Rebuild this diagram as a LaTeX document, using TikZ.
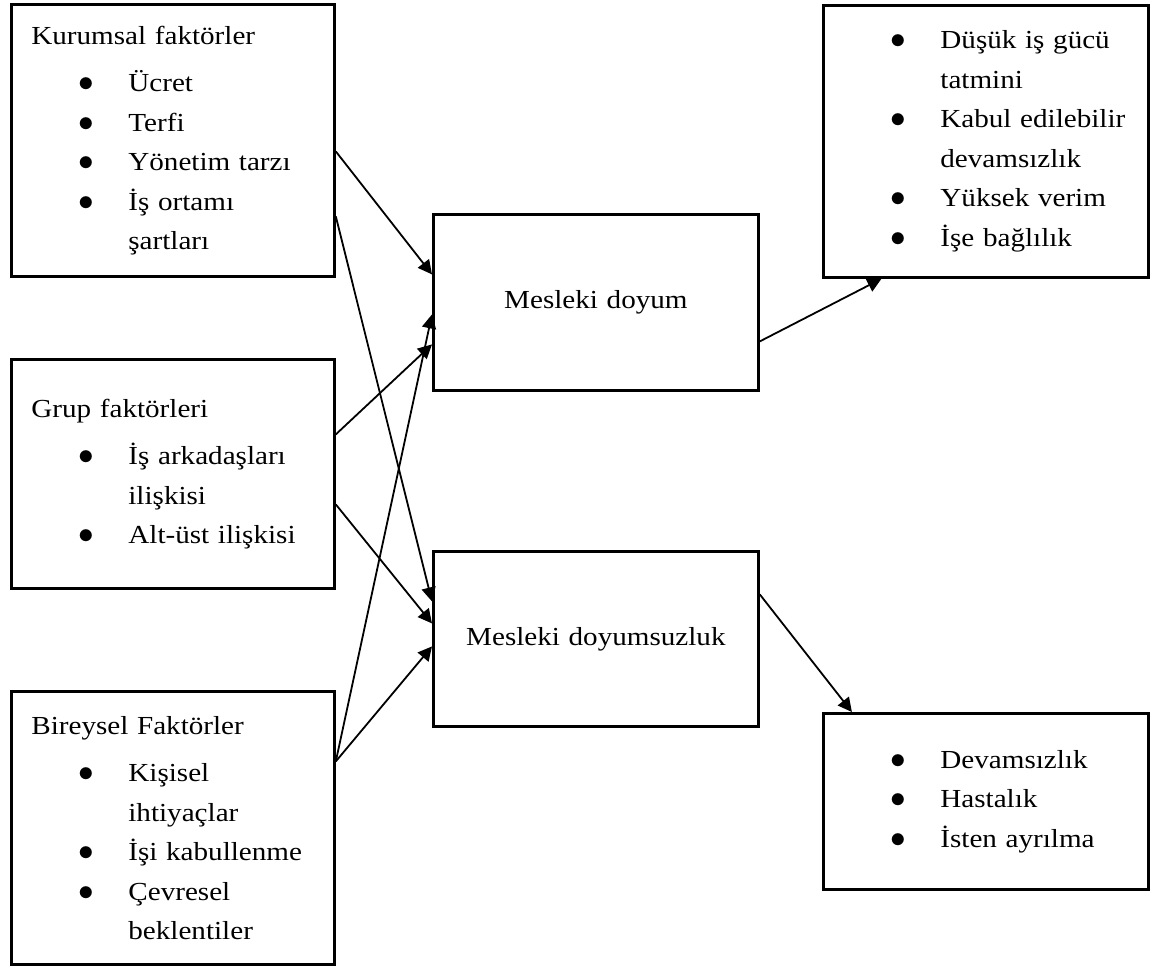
\documentclass[tikz,border=0pt]{standalone}
\usepackage{fontspec}
\setmainfont{Liberation Serif}[FakeStretch=1.12]
\usetikzlibrary{arrows.meta, positioning}
\tikzset{
    >={Triangle[length=7pt, width=7pt]},
    every edge/.append style={->, line width=0.9pt},
    box/.style={draw, line width=1.4pt, anchor=north west, align=left,
        inner ysep=0pt, font=\fontsize{13}{19.75}\selectfont},
    factor/.style={box, inner xsep=10pt, text width=141.5pt},
    result/.style={box, inner xsep=10pt, text width=142.5pt},
    middle/.style={box, align=center, inner xsep=15.5pt, text width=131.5pt}
}
\newcommand{\itm}{\hspace*{23.5pt}\makebox[25pt][l]{\scalebox{1.3}{$\bullet$}}}
\newcommand{\cnt}{\hspace*{48.5pt}}

\begin{document}
\begin{tikzpicture}[x=0.5pt, y=-0.5pt]
        \useasboundingbox (0,0) rectangle (1160,968);

        \node (kurumsal) [factor, minimum height=136pt] at (10,3)
            {Kurumsal faktörler\\[4pt]
             \itm Ücret\\
             \itm Terfi\\
             \itm Yönetim tarzı\\
             \itm İş ortamı\\
             \cnt şartları};
        \node (grup) [factor, minimum height=114.5pt] at (10,358)
            {Grup faktörleri\\[4pt]
             \itm İş arkadaşları\\
             \cnt ilişkisi\\
             \itm Alt-üst ilişkisi};
        \node (bireysel) [factor, minimum height=136.5pt] at (10,690)
            {Bireysel Faktörler\\[4pt]
             \itm Kişisel\\
             \cnt ihtiyaçlar\\
             \itm İşi kabullenme\\
             \itm Çevresel\\
             \cnt beklentiler};
        \node (doyum) [middle, minimum height=88pt] at (432,213) {Mesleki doyum};
        \node (doyumsuz) [middle, minimum height=87.5pt] at (432,550) {Mesleki doyumsuzluk};
        \node (olumlu) [result, minimum height=136pt] at (822,4)
            {\itm Düşük iş gücü\\
             \cnt tatmini\\
             \itm Kabul edilebilir\\
             \cnt devamsızlık\\
             \itm Yüksek verim\\
             \itm İşe bağlılık};
        \node (olumsuz) [result, minimum height=88pt] at (822,712)
            {\itm Devamsızlık\\
             \itm Hastalık\\
             \itm İsten ayrılma};

        \path
            ([yshift=-5.5pt]kurumsal.east) edge ([yshift=14pt]doyum.west)
            ([yshift=-38pt]kurumsal.east) edge ([yshift=18.75pt]doyumsuz.west)
            ([yshift=19.75pt]grup.east) edge ([yshift=-21pt]doyum.west)
            ([yshift=-15.25pt]grup.east) edge ([yshift=7.75pt]doyumsuz.west)
            ([yshift=33.25pt]bireysel.east) edge ([yshift=-6pt]doyum.west)
            ([yshift=33.25pt]bireysel.east) edge ([yshift=-3.75pt]doyumsuz.west)
            ([yshift=-19.5pt]doyum.east) edge ([xshift=-52.25pt]olumlu.south)
            ([yshift=22.25pt]doyumsuz.east) edge ([xshift=-67pt]olumsuz.north)
            ;
\end{tikzpicture}
\end{document}
